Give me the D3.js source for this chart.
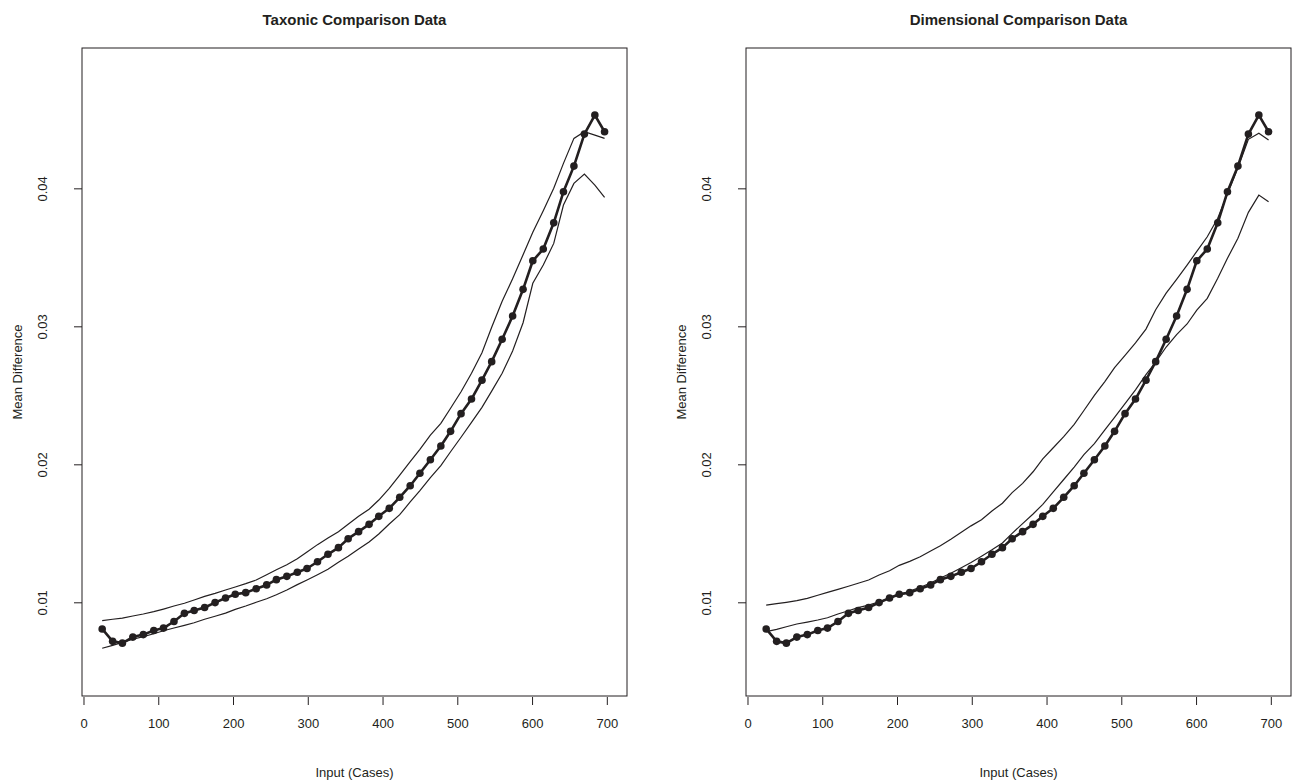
<!DOCTYPE html>
<html>
<head>
  <meta charset="utf-8">
  <title>Comparison Data</title>
  <script src="https://d3js.org/d3.v7.min.js"></script>
  <style>
    html, body { margin: 0; background: #fff; overflow: hidden; }
    svg text { font-family: "Liberation Sans", Arial, Helvetica, sans-serif; fill: #231f20; }
  </style>
</head>
<body>
  <svg id="chart" width="1293" height="780"></svg>
  <script>
    // input cases (x positions of the points)
    const cases = [25, 39, 52, 66, 80, 94, 107, 121, 135, 148, 162, 176, 190, 203, 217, 231, 245, 258, 272, 286,
      299, 313, 327, 341, 354, 368, 382, 395, 409, 423, 437, 450, 464, 478, 491, 505, 519, 533, 546, 560,
      574, 588, 601, 615, 629, 642, 656, 670, 684, 697];

    // observed mean difference (same in both panels)
    const observed = [0.00807, 0.00717, 0.00704, 0.00748, 0.00766, 0.00796, 0.00813, 0.00861, 0.0092, 0.00941,
      0.00962, 0.00998, 0.01031, 0.01058, 0.0107, 0.01098, 0.01126, 0.01164, 0.01188, 0.01218,
      0.01245, 0.01294, 0.01348, 0.01396, 0.01461, 0.01512, 0.01565, 0.01623, 0.01681, 0.01761,
      0.01845, 0.01935, 0.02033, 0.02133, 0.02239, 0.02367, 0.02473, 0.0261, 0.02744, 0.02906,
      0.03075, 0.03268, 0.03475, 0.0356, 0.0375, 0.03975, 0.04161, 0.04393, 0.04531, 0.0441];

    // taxonic comparison band
    const taxUpper = [0.00867, 0.00877, 0.00886, 0.00901, 0.00915, 0.00932, 0.00951, 0.00973, 0.00993, 0.01017,
      0.01043, 0.01065, 0.01089, 0.01111, 0.01135, 0.01162, 0.012, 0.01236, 0.01272, 0.01316,
      0.01365, 0.01418, 0.01466, 0.01512, 0.01565, 0.01623, 0.01674, 0.01741, 0.01826, 0.01922,
      0.02019, 0.02109, 0.02212, 0.02297, 0.02406, 0.02526, 0.0266, 0.02809, 0.02993, 0.03181,
      0.03345, 0.03519, 0.03681, 0.03838, 0.04, 0.04181, 0.04362, 0.0441, 0.04386, 0.04362];
    const taxLower = [0.00667, 0.00688, 0.0071, 0.00732, 0.00751, 0.00772, 0.00794, 0.00814, 0.00833, 0.00852,
      0.00877, 0.00899, 0.00922, 0.00949, 0.00973, 0.01, 0.01026, 0.01055, 0.01089, 0.01128,
      0.01162, 0.012, 0.0124, 0.0129, 0.01333, 0.01386, 0.01437, 0.01495, 0.01567, 0.01635,
      0.01727, 0.01809, 0.01903, 0.0199, 0.02091, 0.02196, 0.02304, 0.02413, 0.0253, 0.0266,
      0.02821, 0.03026, 0.03312, 0.03444, 0.03601, 0.03879, 0.04036, 0.04104, 0.04024, 0.03935];

    // dimensional comparison band
    const dimUpper = [0.0098, 0.0099, 0.01, 0.01012, 0.01029, 0.01051, 0.01072, 0.01094, 0.01116, 0.01138,
      0.01162, 0.01198, 0.01229, 0.01268, 0.01297, 0.0133, 0.01372, 0.0141, 0.01457, 0.01508,
      0.01554, 0.01599, 0.01662, 0.01718, 0.01795, 0.01862, 0.01946, 0.0204, 0.0212, 0.022,
      0.0229, 0.0239, 0.025, 0.026, 0.027, 0.0279, 0.0288, 0.0298, 0.0312, 0.0324,
      0.0334, 0.03444, 0.03543, 0.03649, 0.03783, 0.03959, 0.04149, 0.04355, 0.04399, 0.0435];
    const dimLower = [0.00787, 0.00804, 0.00823, 0.00843, 0.00857, 0.00872, 0.00888, 0.00915, 0.00939, 0.00961,
      0.0098, 0.01004, 0.01031, 0.01055, 0.01082, 0.01109, 0.0114, 0.01176, 0.0121, 0.0125,
      0.01288, 0.01333, 0.0138, 0.0143, 0.015, 0.0157, 0.0164, 0.0171, 0.018, 0.0189,
      0.0198, 0.0207, 0.0215, 0.0225, 0.0234, 0.0244, 0.0254, 0.0265, 0.0274, 0.0285,
      0.0294, 0.03017, 0.03118, 0.03203, 0.03348, 0.03493, 0.03638, 0.03826, 0.03951, 0.03903];

    const xTicks = [0, 100, 200, 300, 400, 500, 600, 700];
    const yTicks = [0.01, 0.02, 0.03, 0.04];

    const panels = [
      { title: 'Taxonic Comparison Data', upper: taxUpper, lower: taxLower, x0: 82, x1: 627 },
      { title: 'Dimensional Comparison Data', upper: dimUpper, lower: dimLower, x0: 746, x1: 1291 }
    ];

    const plotTop = 48, plotBottom = 696;
    const ink = '#231f20';
    const svg = d3.select('#chart');

    const y = d3.scaleLinear().domain([0.00321, 0.05017]).range([plotBottom, plotTop]);

    panels.forEach(p => {
      const x = d3.scaleLinear().domain([-2, 727]).range([p.x0, p.x1]);
      const g = svg.append('g');

      // box
      g.append('rect')
        .attr('x', p.x0).attr('y', plotTop)
        .attr('width', p.x1 - p.x0).attr('height', plotBottom - plotTop)
        .attr('fill', 'none').attr('stroke', ink).attr('stroke-width', 1);

      // x axis
      const xa = g.append('g')
        .attr('transform', `translate(0,${plotBottom + 1})`)
        .call(d3.axisBottom(x).tickValues(xTicks).tickSize(8).tickPadding(14).tickFormat(d3.format('d')));
      xa.select('.domain').remove();
      xa.selectAll('line').attr('stroke', ink);
      xa.selectAll('text').attr('font-size', 13).attr('fill', ink);

      // y axis, rotated labels like base R
      const ya = g.append('g')
        .attr('transform', `translate(${p.x0},0)`)
        .call(d3.axisLeft(y).tickValues(yTicks).tickSize(8).tickFormat(d3.format('.2f')));
      ya.select('.domain').remove();
      ya.selectAll('line').attr('stroke', ink);
      ya.selectAll('text')
        .attr('font-size', 13).attr('fill', ink)
        .attr('x', 0).attr('dy', 0)
        .attr('text-anchor', 'middle')
        .attr('transform', 'translate(-35,0) rotate(-90)');

      // titles
      g.append('text')
        .attr('x', (p.x0 + p.x1) / 2).attr('y', 25)
        .attr('text-anchor', 'middle')
        .attr('font-size', 15).attr('font-weight', 'bold')
        .text(p.title);
      g.append('text')
        .attr('x', (p.x0 + p.x1) / 2).attr('y', 777)
        .attr('text-anchor', 'middle').attr('font-size', 13)
        .text('Input (Cases)');
      g.append('text')
        .attr('transform', `translate(${p.x0 - 60},${(plotTop + plotBottom) / 2}) rotate(-90)`)
        .attr('text-anchor', 'middle').attr('font-size', 13)
        .text('Mean Difference');

      // band lines
      [p.upper, p.lower].forEach(band => {
        g.append('path')
          .datum(band)
          .attr('fill', 'none').attr('stroke', ink).attr('stroke-width', 1.2)
          .attr('d', d3.line().x((d, i) => x(cases[i])).y(d => y(d)));
      });

      // observed line with points
      g.append('path')
        .datum(observed)
        .attr('fill', 'none').attr('stroke', ink).attr('stroke-width', 2.6)
        .attr('stroke-linejoin', 'round')
        .attr('d', d3.line().x((d, i) => x(cases[i])).y(d => y(d)));
      g.selectAll('circle.pt')
        .data(observed)
        .join('circle')
        .attr('class', 'pt')
        .attr('cx', (d, i) => x(cases[i]))
        .attr('cy', d => y(d))
        .attr('r', 3.8)
        .attr('fill', ink);
    });
  </script>
</body>
</html>
